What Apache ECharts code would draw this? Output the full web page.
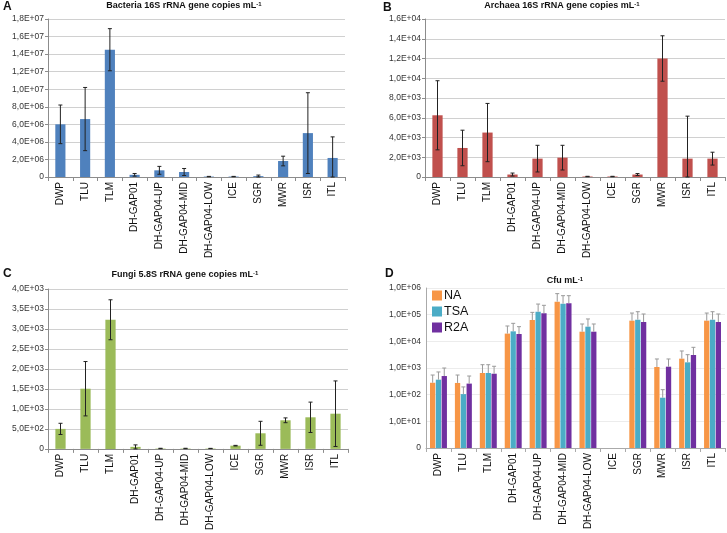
<!DOCTYPE html>
<html>
<head>
<meta charset="utf-8">
<script src="https://cdn.jsdelivr.net/npm/echarts@6/dist/echarts.min.js"></script>
<style>
  html, body { margin: 0; padding: 0; background: #fff; }
  #main { width: 727px; height: 533px; }
</style>
</head>
<body>
<div id="main"></div>
<script>
// sites, shared by all four panels
const categories = ['DWP', 'TLU', 'TLM', 'DH-GAP01', 'DH-GAP04-UP', 'DH-GAP04-MID', 'DH-GAP04-LOW', 'ICE', 'SGR', 'MWR', 'ISR', 'ITL'];

// A - Bacteria 16S rRNA gene copies / mL (mean, sd)
const bacteriaMean = [6.0e6, 6.6e6, 14.5e6, 0.25e6, 0.76e6, 0.57e6, 0.05e6, 0.05e6, 0.1e6, 1.82e6, 5.0e6, 2.17e6];
const bacteriaSd = [2.2e6, 3.6e6, 2.4e6, 0.15e6, 0.45e6, 0.4e6, 0.02e6, 0.02e6, 0.12e6, 0.55e6, 4.6e6, 2.4e6];

// B - Archaea 16S rRNA gene copies / mL
const archaeaMean = [6250, 2940, 4500, 250, 1860, 1960, 50, 50, 250, 12000, 1860, 1860];
const archaeaSd = [3500, 1800, 2950, 150, 1350, 1250, 20, 20, 100, 2300, 4300, 650];

// C - Fungi 5.8S rRNA gene copies / mL
const fungiMean = [500, 1505, 3230, 50, 10, 10, 10, 80, 390, 715, 790, 880];
const fungiSd = [140, 680, 500, 50, 5, 5, 3, 8, 300, 60, 380, 820];

// D - Cfu / mL on three media (null = not measured)
const cfuMedia = ['NA', 'TSA', 'R2A'];
const naMean = [280, 275, 650, 19500, 63000, 307000, 23000, null, 59600, 1090, 2240, 59600];
const naSd = [265, 270, 680, 18100, 59000, 308000, 21700, null, 55400, 1090, 2110, 55400];
const tsaMean = [365, 105, 650, 23700, 129000, 259000, 35500, null, 65000, 77, 1630, 65000];
const tsaSd = [345, 90, 680, 23600, 121000, 256000, 33500, null, 64000, 77, 1530, 64000];
const r2aMean = [500, 260, 610, 18800, 112000, 266000, 23000, null, 53000, 1120, 3080, 53000];
const r2aSd = [500, 240, 550, 16700, 112000, 249000, 21700, null, 53000, 1060, 2880, 53000];

const axisFont = 'Liberation Sans, Arial, sans-serif';
const titleFont = 'Liberation Sans Narrow, Arial Narrow, Liberation Sans, sans-serif';

function sci(v) {
    if (v <= 1e-9) return '0';
    let e = Math.floor(Math.log10(v) + 1e-9);
    let m = v / Math.pow(10, e);
    return m.toFixed(1).replace('.', ',') + 'E+' + (e < 10 ? '0' : '') + e;
}
// log axis: the bottom (1) is labelled 0 as in the original
function sciLog(v) {
    return v <= 1.0001 ? '0' : sci(v);
}

const grids = [
    { left: 48, top: 19, width: 297, height: 158 },
    { left: 425, top: 19, width: 300, height: 158 },
    { left: 48, top: 289, width: 300, height: 160 },
    { left: 426, top: 288, width: 299, height: 160 }
];

function catAxis(gi, lineColor) {
    return {
        type: 'category',
        gridIndex: gi,
        data: categories,
        axisLine: { lineStyle: { color: lineColor } },
        axisTick: { show: true, length: 4, lineStyle: { color: lineColor } },
        axisLabel: { rotate: 90, fontSize: 10, color: '#111', fontFamily: axisFont, margin: 5 }
    };
}

function valAxis(gi, max, interval) {
    return {
        type: 'value',
        gridIndex: gi,
        min: 0,
        max: max,
        interval: interval,
        axisLine: { show: true, lineStyle: { color: '#8c8c8c' } },
        axisTick: { show: true, length: 3, lineStyle: { color: '#8c8c8c' } },
        splitLine: { lineStyle: { color: '#d0d0d0' } },
        axisLabel: { fontSize: 8.5, color: '#333', fontFamily: axisFont, margin: 4, formatter: sci }
    };
}

function barSeries(gi, values, color) {
    return {
        type: 'bar',
        xAxisIndex: gi,
        yAxisIndex: gi,
        data: values,
        barWidth: '41%',
        itemStyle: { color: color },
        silent: true
    };
}

// error bars: both directions for A-C, upper only for D
function errSeries(gi, mean, sd, opts) {
    let data = [];
    mean.forEach((m, i) => {
        if (m != null) data.push([i, m, sd[i]]);
    });
    return {
        type: 'custom',
        xAxisIndex: gi,
        yAxisIndex: gi,
        data: data,
        z: 5,
        silent: true,
        renderItem: function (params, api) {
            let x = api.value(0), m = api.value(1), s = api.value(2);
            let hi = api.coord([x, m + s]);
            let lo = opts.upperOnly ? api.coord([x, m]) : api.coord([x, Math.max(opts.floor, m - s)]);
            let cx = hi[0] + opts.offset;
            let w = opts.cap;
            let style = { stroke: opts.color, lineWidth: 1 };
            let kids = [
                { type: 'line', shape: { x1: cx, y1: hi[1], x2: cx, y2: lo[1] }, style: style },
                { type: 'line', shape: { x1: cx - w, y1: hi[1], x2: cx + w, y2: hi[1] }, style: style }
            ];
            if (!opts.upperOnly) {
                kids.push({ type: 'line', shape: { x1: cx - w, y1: lo[1], x2: cx + w, y2: lo[1] }, style: style });
            }
            return { type: 'group', children: kids };
        }
    };
}

function panelTitle(text, x, y) {
    return {
        text: '{t|' + text + '}{s|-1}',
        left: x,
        top: y,
        padding: 0,
        textAlign: 'center',
        textStyle: {
            rich: {
                t: { fontSize: 9, fontWeight: 'bold', color: '#111', fontFamily: titleFont },
                s: { fontSize: 6, fontWeight: 'bold', color: '#111', fontFamily: titleFont, verticalAlign: 'top', padding: [0, 0, 4, 0] }
            }
        }
    };
}

function letter(t, x, y) {
    return { text: t, left: x, top: y, padding: 0, textStyle: { fontSize: 12, fontWeight: 'bold', color: '#111', fontFamily: axisFont } };
}

const dColors = ['#f79646', '#4bacc6', '#7030a0'];
const dMeans = [naMean, tsaMean, r2aMean];
const dSds = [naSd, tsaSd, r2aSd];
const dBarW = 5.3;
const dStep = 5.8;

let series = [
    barSeries(0, bacteriaMean, '#4f81bd'),
    errSeries(0, bacteriaMean, bacteriaSd, { color: '#222', cap: 2, offset: 0, floor: 0 }),
    barSeries(1, archaeaMean, '#c0504d'),
    errSeries(1, archaeaMean, archaeaSd, { color: '#222', cap: 2, offset: 0, floor: 0 }),
    barSeries(2, fungiMean, '#9bbb59'),
    errSeries(2, fungiMean, fungiSd, { color: '#222', cap: 2, offset: 0, floor: 0 })
];
cfuMedia.forEach((name, k) => {
    series.push({
        name: name,
        type: 'bar',
        xAxisIndex: 3,
        yAxisIndex: 3,
        data: dMeans[k],
        barWidth: dBarW,
        barGap: '10%',
        itemStyle: { color: dColors[k] },
        silent: true
    });
});
cfuMedia.forEach((name, k) => {
    series.push(errSeries(3, dMeans[k], dSds[k], { color: '#9a9a9a', cap: 2, offset: (k - 1) * dStep, upperOnly: true, floor: 1 }));
});

const option = {
    animation: false,
    backgroundColor: '#fff',
    title: [
        panelTitle('Bacteria 16S rRNA gene copies mL', 184, 1),
        panelTitle('Archaea 16S rRNA gene copies mL', 562, 1),
        panelTitle('Fungi 5.8S rRNA gene copies mL', 185, 270),
        panelTitle('Cfu mL', 565, 276),
        letter('A', 3, 1),
        letter('B', 383, 2),
        letter('C', 3, 268),
        letter('D', 385, 268)
    ],
    legend: {
        data: cfuMedia,
        orient: 'vertical',
        left: 427,
        top: 284,
        itemWidth: 10,
        itemHeight: 10,
        itemGap: 3,
        icon: 'rect',
        textStyle: { fontSize: 12.5, color: '#111', fontFamily: axisFont, padding: [0, 0, 0, -3] }
    },
    grid: grids,
    xAxis: [
        catAxis(0, '#8c8c8c'),
        catAxis(1, '#8c8c8c'),
        catAxis(2, '#8c8c8c'),
        catAxis(3, '#aaaaaa')
    ],
    yAxis: [
        valAxis(0, 1.8e7, 2e6),
        valAxis(1, 1.6e4, 2e3),
        valAxis(2, 4e3, 5e2),
        {
            type: 'log',
            gridIndex: 3,
            logBase: 10,
            min: 1,
            max: 1e6,
            axisLine: { show: true, lineStyle: { color: '#aaaaaa' } },
            axisTick: { show: false },
            splitLine: { lineStyle: { color: '#ececec' } },
            axisLabel: { fontSize: 8.5, color: '#333', fontFamily: axisFont, margin: 5, formatter: sciLog }
        }
    ],
    series: series
};

var chart = echarts.init(document.getElementById('main'), null, { renderer: 'canvas' });
chart.setOption(option);
</script>
</body>
</html>
